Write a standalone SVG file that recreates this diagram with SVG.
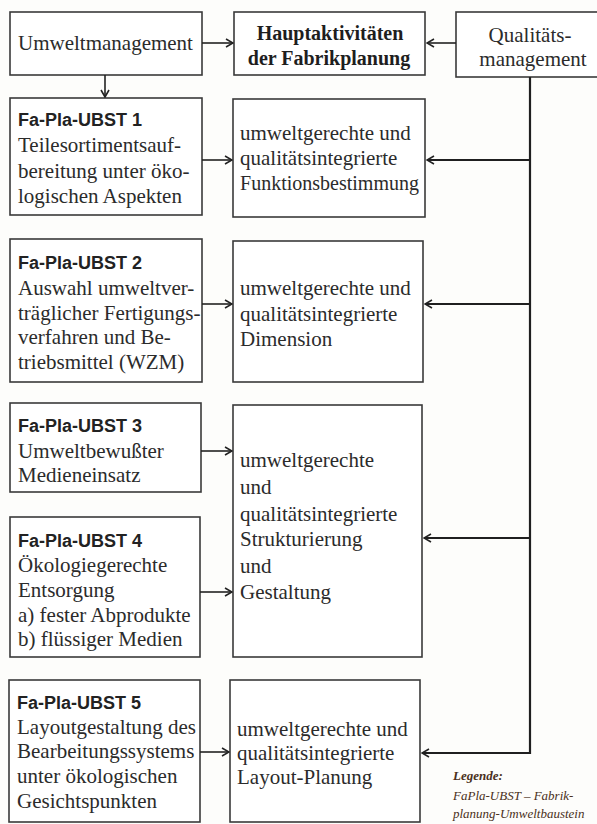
<svg xmlns="http://www.w3.org/2000/svg" width="597" height="824" viewBox="0 0 597 824">
<style>
.bg{fill:#fdfdfb}
.box{fill:#ffffff;stroke:#3a3a3a;stroke-width:1.6}
.t{font-family:"Liberation Serif","Times New Roman",serif;font-size:21px;fill:#2b2b2b}
.tb{font-family:"Liberation Serif","Times New Roman",serif;font-size:20px;font-weight:bold;fill:#1e1e1e}
.h{font-family:"Liberation Sans",Arial,sans-serif;font-size:18px;font-weight:bold;fill:#222}
.c{text-anchor:middle}
.ln{stroke:#222;stroke-width:1.6;fill:none}
.fb{stroke:#1f1f1f;stroke-width:2.2;fill:none}
.lg{font-family:"Liberation Serif","Times New Roman",serif;font-size:13px;font-style:italic;fill:#4a3020}
</style>
<defs>
<marker id="ah" markerWidth="9" markerHeight="10" refX="8" refY="5" orient="auto" markerUnits="userSpaceOnUse">
<path d="M1,1 L8,5 L1,9" fill="none" stroke="#222" stroke-width="1.6"/>
</marker>
</defs>
<rect class="bg" x="0" y="0" width="597" height="824"/>

<g id="umweltmanagement">
<rect class="box" x="10" y="12" width="192" height="63"/>
<text class="t" x="18" y="50">Umweltmanagement</text>
</g>
<g id="hauptaktivitaeten">
<rect class="box" x="234" y="12" width="191" height="63"/>
<text class="tb c" x="330" y="40">Hauptaktivitäten</text>
<text class="tb c" x="329" y="65">der Fabrikplanung</text>
</g>
<g id="qualitaetsmanagement">
<rect class="box" x="456" y="12" width="145" height="65"/>
<text class="t c" x="530" y="42">Qualitäts-</text>
<text class="t c" x="533" y="66">management</text>
</g>

<g id="ubst1">
<rect class="box" x="10" y="98" width="192" height="117"/>
<text class="h" x="18" y="126">Fa-Pla-UBST 1</text>
<text class="t" x="18" y="152">Teilesortimentsauf-</text>
<text class="t" x="18" y="178">bereitung unter öko-</text>
<text class="t" x="18" y="203">logischen Aspekten</text>
</g>
<g id="funktion">
<rect class="box" x="233" y="99" width="192" height="118"/>
<text class="t" x="240" y="140">umweltgerechte und</text>
<text class="t" x="240" y="165">qualitätsintegrierte</text>
<text class="t" x="240" y="190" textLength="179" lengthAdjust="spacingAndGlyphs">Funktionsbestimmung</text>
</g>

<g id="ubst2">
<rect class="box" x="10" y="239" width="192" height="143"/>
<text class="h" x="18" y="269">Fa-Pla-UBST 2</text>
<text class="t" x="18" y="295">Auswahl umweltver-</text>
<text class="t" x="18" y="320">träglicher Fertigungs-</text>
<text class="t" x="18" y="344">verfahren und Be-</text>
<text class="t" x="18" y="369">triebsmittel (WZM)</text>
</g>
<g id="dimension">
<rect class="box" x="233" y="241" width="190" height="141"/>
<text class="t" x="240" y="295">umweltgerechte und</text>
<text class="t" x="240" y="321">qualitätsintegrierte</text>
<text class="t" x="240" y="346">Dimension</text>
</g>

<g id="ubst3">
<rect class="box" x="10" y="403" width="191" height="89"/>
<text class="h" x="18" y="432">Fa-Pla-UBST 3</text>
<text class="t" x="18" y="458">Umweltbewußter</text>
<text class="t" x="18" y="482">Medieneinsatz</text>
</g>
<g id="strukturierung">
<rect class="box" x="233" y="405" width="189" height="252"/>
<text class="t" x="240" y="467">umweltgerechte</text>
<text class="t" x="240" y="494">und</text>
<text class="t" x="240" y="521">qualitätsintegrierte</text>
<text class="t" x="240" y="546">Strukturierung</text>
<text class="t" x="240" y="573">und</text>
<text class="t" x="240" y="599">Gestaltung</text>
</g>

<g id="ubst4">
<rect class="box" x="10" y="517" width="190" height="140"/>
<text class="h" x="18" y="547">Fa-Pla-UBST 4</text>
<text class="t" x="18" y="572">Ökologiegerechte</text>
<text class="t" x="18" y="597">Entsorgung</text>
<text class="t" x="18" y="622">a) fester Abprodukte</text>
<text class="t" x="18" y="646">b) flüssiger Medien</text>
</g>

<g id="ubst5">
<rect class="box" x="9" y="680" width="191" height="142"/>
<text class="h" x="17" y="709">Fa-Pla-UBST 5</text>
<text class="t" x="17" y="734">Layoutgestaltung des</text>
<text class="t" x="17" y="758">Bearbeitungssystems</text>
<text class="t" x="17" y="783">unter ökologischen</text>
<text class="t" x="17" y="808">Gesichtspunkten</text>
</g>
<g id="layout">
<rect class="box" x="230" y="680" width="190" height="142"/>
<text class="t" x="237" y="736">umweltgerechte und</text>
<text class="t" x="237" y="760">qualitätsintegrierte</text>
<text class="t" x="237" y="784">Layout-Planung</text>
</g>

<g id="legende">
<text class="lg" x="453" y="780" font-weight="bold">Legende:</text>
<text class="lg" x="453" y="800">FaPla-UBST – Fabrik-</text>
<text class="lg" x="453" y="818">planung-Umweltbaustein</text>
</g>

<g id="connectors">
<line class="ln" x1="202" y1="43" x2="233" y2="43" marker-end="url(#ah)"/>
<line class="ln" x1="456" y1="43" x2="427" y2="43" marker-end="url(#ah)"/>
<line class="ln" x1="105" y1="75" x2="105" y2="97" marker-end="url(#ah)"/>
<line class="ln" x1="202" y1="160" x2="232" y2="160" marker-end="url(#ah)"/>
<line class="ln" x1="202" y1="304" x2="232" y2="304" marker-end="url(#ah)"/>
<line class="ln" x1="201" y1="451" x2="232" y2="451" marker-end="url(#ah)"/>
<line class="ln" x1="200" y1="592" x2="232" y2="592" marker-end="url(#ah)"/>
<line class="ln" x1="200" y1="752" x2="229" y2="752" marker-end="url(#ah)"/>
<polyline class="fb" points="530,77 530,754"/>
<line class="fb" x1="530" y1="160" x2="427" y2="160" marker-end="url(#ah)"/>
<line class="fb" x1="530" y1="304" x2="425" y2="304" marker-end="url(#ah)"/>
<line class="fb" x1="530" y1="538" x2="424" y2="538" marker-end="url(#ah)"/>
<line class="fb" x1="530" y1="753" x2="422" y2="753" marker-end="url(#ah)"/>
</g>
</svg>
